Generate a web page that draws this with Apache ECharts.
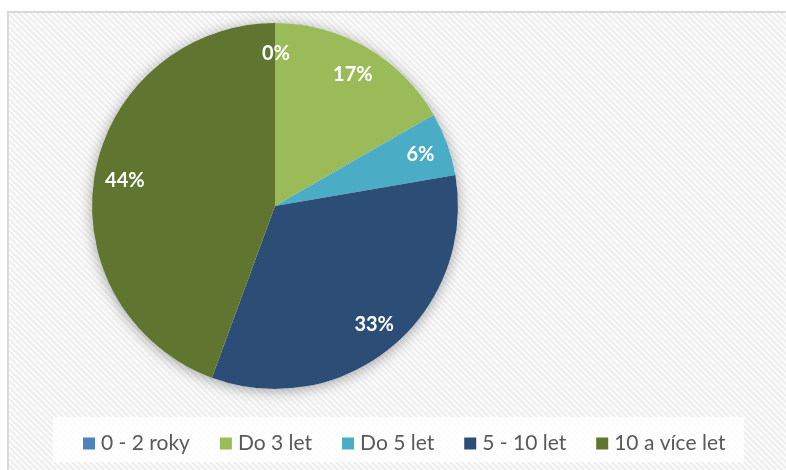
<!DOCTYPE html>
<html>
<head>
<meta charset="utf-8">
<script src="https://cdn.jsdelivr.net/npm/echarts@6/dist/echarts.min.js"></script>
<style>
  html, body { margin: 0; padding: 0; background: #fff; }
  #chart { width: 786px; height: 470px; }
</style>
</head>
<body>
<div id="chart"></div>
<script>
// data
const categories = ['0 - 2 roky', 'Do 3 let', 'Do 5 let', '5 - 10 let', '10 a více let'];
const shares = [0, 16.7, 5.6, 33.3, 44.4];
const colors = ['#4f81bd', '#9bbb59', '#4bacc6', '#2c4d75', '#5f7530'];

// hatched background like the office chart area
const makeHatch = () => {
  const c = document.createElement('canvas');
  c.width = 6;
  c.height = 6;
  const ctx = c.getContext('2d');
  ctx.fillStyle = '#fbfbfb';
  ctx.fillRect(0, 0, 6, 6);
  ctx.strokeStyle = '#ececec';
  ctx.lineWidth = 1.6;
  ctx.beginPath();
  ctx.moveTo(-1, -1); ctx.lineTo(7, 7);
  ctx.moveTo(-4, 2); ctx.lineTo(4, 10);
  ctx.moveTo(2, -4); ctx.lineTo(10, 4);
  ctx.stroke();
  return c;
};

const chart = echarts.init(document.getElementById('chart'));

const pieData = categories.map((name, i) => ({
  name,
  value: shares[i],
  itemStyle: { color: colors[i] }
}));

const option = {
  animation: false,
  backgroundColor: '#fff',
  graphic: [
    {
      type: 'rect',
      z: -10,
      shape: { x: 8, y: 12, width: 800, height: 480 },
      style: { fill: { image: makeHatch(), repeat: 'repeat' }, stroke: '#d9d9d9', lineWidth: 2 }
    },
    {
      type: 'rect',
      z: -5,
      shape: { x: 53, y: 417, width: 691, height: 45 },
      style: { fill: 'rgba(255,255,255,0.8)' }
    }
  ],
  legend: {
    data: categories,
    left: 78,
    top: 428,
    itemWidth: 12,
    itemHeight: 12,
    itemGap: 30,
    icon: 'rect',
    textStyle: { color: '#595959', fontSize: 21, fontFamily: 'Lato', padding: [0, 0, 0, 1] }
  },
  series: [
    {
      // soft shadow under the pie
      type: 'pie',
      silent: true,
      center: [275, 206],
      radius: [0, 183],
      label: { show: false },
      itemStyle: { color: '#fff', shadowBlur: 14, shadowColor: 'rgba(0,0,0,0.35)', shadowOffsetY: 2 },
      data: [{ name: 'bg', value: 1 }],
      z: 1
    },
    {
      name: 'main',
      type: 'pie',
      center: [275, 206],
      radius: [0, 183],
      startAngle: 90,
      clockwise: true,
      avoidLabelOverlap: false,
      label: { show: false },
      labelLine: { show: false },
      data: pieData,
      z: 2
    },
    {
      // label ring
      name: 'labels',
      type: 'pie',
      silent: true,
      center: [276, 207],
      radius: [118, 183],
      startAngle: 90,
      clockwise: true,
      avoidLabelOverlap: false,
      itemStyle: { color: 'rgba(0,0,0,0)' },
      label: {
        show: true,
        position: 'inside',
        color: '#fff',
        fontSize: 20,
        fontWeight: 'bold',
        fontFamily: 'Lato',
        formatter: (p) => Math.round(p.value) + '%'
      },
      labelLine: { show: false },
      data: pieData.map(d => ({ name: d.name, value: d.value })),
      z: 3
    }
  ]
};

chart.setOption(option);
</script>
</body>
</html>
